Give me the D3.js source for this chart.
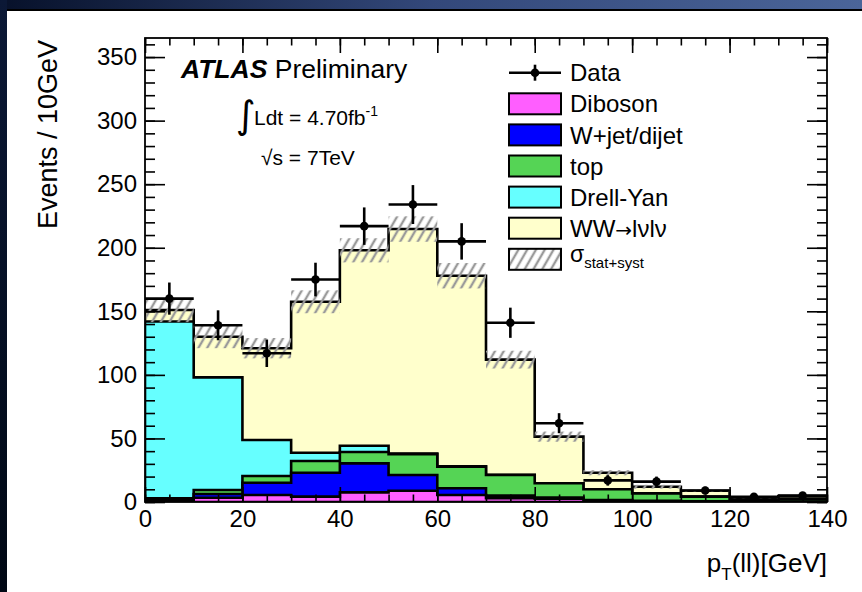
<!DOCTYPE html>
<html>
<head>
<meta charset="utf-8">
<script src="https://cdn.jsdelivr.net/npm/d3@7"></script>
<style>
body { margin: 0; background: #fff; }
svg { display: block; font-family: "Liberation Sans", Arial, Helvetica, sans-serif; }
.axis path { stroke: none; }
.axis line { stroke: #000; stroke-width: 1.6; }
.axis text { font-size: 24px; fill: #000; font-family: "Liberation Sans", Arial, sans-serif; }
</style>
</head>
<body>
<svg id="svg" width="862" height="592"></svg>
<script>
// bins of pT(ll), 10 GeV wide
const binLo = [0, 10, 20, 30, 40, 50, 60, 70, 80, 90, 100, 110, 120, 130];
const dataEvents = [160, 139, 117, 175, 217, 234, 205, 141, 62, 17, 16, 9, 4, 5];

// MC components (bottom of stack first)
const diboson = [1, 3.4, 5.5, 4.2, 7.6, 8.9, 5.5, 3, 2.5, 1, 0.6, 0.4, 0.2, 0.2];
const wjet    = [1, 2.9, 9.7, 18.8, 22.8, 12.3, 5.3, 2, 1, 0.5, 0.3, 0.2, 0.1, 0.1];
const topq    = [1, 3.1, 5.2, 9.2, 8.9, 16.5, 17, 16.2, 11.2, 8.5, 5.9, 3.6, 1.7, 2.2];
const drellYan = [139, 88.6, 28.4, 6.6, 5, 0.5, 0.3, 0.2, 0.1, 0, 0, 0, 0, 0];
const wwlvlv  = [9, 32, 72.2, 118.7, 153.7, 176.5, 149.9, 90.6, 36.6, 13, 5.2, 4.7, 1.5, 2.2];
const sigmaSyst = [9.5, 9, 8, 9, 9.5, 10, 10, 7, 4, 2, 1.5, 1, 0.5, 0.5];

const yTicks = [0, 50, 100, 150, 200, 250, 300, 350];
const xTicks = [0, 20, 40, 60, 80, 100, 120, 140];

const keys = ["Diboson", "W+jet/dijet", "top", "Drell-Yan", "WW"];
const colors = ["#ff5eff", "#0000ff", "#55d455", "#66ffff", "#ffffcc"];
const legendLabels = ["Data", "Diboson", "W+jet/dijet", "top", "Drell-Yan", "WW", "sigma"];

var svg = d3.select("#svg"),
    W = 862, H = 592,
    margin = { top: 38, right: 35, bottom: 90, left: 145 };

var x = d3.scaleLinear().domain([0, 140]).range([margin.left, W - margin.right]);
var y = d3.scaleLinear().domain([0, 365]).range([H - margin.bottom, margin.top]);

const defs = svg.append("defs");

// slide frame (blue band on top, dark strip on the left)
var g1 = defs.append("linearGradient").attr("id", "topband");
g1.append("stop").attr("offset", 0).attr("stop-color", "#07112a");
g1.append("stop").attr("offset", 0.5).attr("stop-color", "#33487a");
g1.append("stop").attr("offset", 1).attr("stop-color", "#4b6599");
var g2 = defs.append("linearGradient").attr("id", "leftband")
    .attr("x1", 0).attr("y1", 0).attr("x2", 0).attr("y2", 1);
g2.append("stop").attr("offset", 0).attr("stop-color", "#0b1836");
g2.append("stop").attr("offset", 1).attr("stop-color", "#000814");

svg.append("rect").attr("x", 0).attr("y", 0).attr("width", W).attr("height", 9).attr("fill", "url(#topband)");
svg.append("rect").attr("x", 0).attr("y", 9).attr("width", W).attr("height", 2).attr("fill", "#000");
svg.append("rect").attr("x", 0).attr("y", 0).attr("width", 7).attr("height", H).attr("fill", "url(#leftband)");

// hatch for the uncertainty band
var pat = defs.append("pattern").attr("id", "hatch")
    .attr("patternUnits", "userSpaceOnUse")
    .attr("width", 7.6).attr("height", 7.6)
    .attr("patternTransform", "rotate(30)");
pat.append("line").attr("x1", 3.8).attr("y1", -1).attr("x2", 3.8).attr("y2", 8.6)
    .attr("stroke", "#9a9a9a").attr("stroke-width", 2.4);

defs.append("clipPath").attr("id", "clip")
    .append("rect")
    .attr("x", x(0)).attr("y", y(365))
    .attr("width", x(140) - x(0)).attr("height", y(0) - y(365));

var rows = binLo.map((b, i) => ({
    lo: b,
    "Diboson": diboson[i],
    "W+jet/dijet": wjet[i],
    "top": topq[i],
    "Drell-Yan": drellYan[i],
    "WW": wwlvlv[i]
}));

var series = d3.stack().keys(keys)(rows);

var area = d3.area()
    .x(d => x(d[0]))
    .y0(y(0))
    .y1(d => y(d[1]))
    .curve(d3.curveStepAfter);

var plot = svg.append("g").attr("clip-path", "url(#clip)");

// THStack style: draw cumulative histograms from the top one down
series.slice().reverse().forEach(s => {
    var pts = s.map(d => [d.data.lo, d[1]]);
    pts.push([140, s[s.length - 1][1]]);
    plot.append("path")
        .datum(pts)
        .attr("d", area)
        .attr("fill", colors[s.index])
        .attr("stroke", "#000")
        .attr("stroke-width", 2.6)
        .attr("stroke-linejoin", "miter");
});

var total = series[series.length - 1].map(d => d[1]);

plot.selectAll(".band")
    .data(binLo)
    .enter().append("rect")
    .attr("class", "band")
    .attr("x", d => x(d))
    .attr("width", d => x(d + 10) - x(d))
    .attr("y", (d, i) => y(total[i] + sigmaSyst[i]))
    .attr("height", (d, i) => y(total[i] - sigmaSyst[i]) - y(total[i] + sigmaSyst[i]))
    .attr("fill", "url(#hatch)");

// data points
var pts = svg.append("g").attr("stroke", "#000").attr("stroke-width", 2.6);
binLo.forEach((b, i) => {
    var v = dataEvents[i], e = Math.sqrt(v);
    pts.append("line").attr("x1", x(b)).attr("x2", x(b + 10)).attr("y1", y(v)).attr("y2", y(v));
    pts.append("line").attr("x1", x(b + 5)).attr("x2", x(b + 5)).attr("y1", y(v - e)).attr("y2", y(v + e));
    pts.append("circle").attr("cx", x(b + 5)).attr("cy", y(v)).attr("r", 4.3).attr("fill", "#000").attr("stroke", "none");
});

// axes, ROOT style ticks pointing inwards on all four sides
function minorTicks(lo, hi, step) { return d3.range(lo, hi + 0.001, step); }

svg.append("g").attr("class", "axis")
    .attr("transform", "translate(" + x(0) + ",0)")
    .call(d3.axisLeft(y).tickValues(minorTicks(0, 360, 10)).tickSize(-10).tickFormat(""));
svg.append("g").attr("class", "axis")
    .attr("transform", "translate(" + x(0) + ",0)")
    .call(d3.axisLeft(y).tickValues(yTicks).tickSize(-20).tickPadding(8));
svg.append("g").attr("class", "axis")
    .attr("transform", "translate(" + x(140) + ",0)")
    .call(d3.axisRight(y).tickValues(minorTicks(0, 360, 10)).tickSize(-10).tickFormat(""));
svg.append("g").attr("class", "axis")
    .attr("transform", "translate(" + x(140) + ",0)")
    .call(d3.axisRight(y).tickValues(yTicks).tickSize(-20).tickFormat(""));

svg.append("g").attr("class", "axis")
    .attr("transform", "translate(0," + y(0) + ")")
    .call(d3.axisBottom(x).tickValues(minorTicks(0, 140, 5)).tickSize(-7.5).tickFormat(""));
svg.append("g").attr("class", "axis")
    .attr("transform", "translate(0," + y(0) + ")")
    .call(d3.axisBottom(x).tickValues(xTicks).tickSize(-15).tickPadding(8));
svg.append("g").attr("class", "axis")
    .attr("transform", "translate(0," + y(365) + ")")
    .call(d3.axisTop(x).tickValues(minorTicks(0, 140, 5)).tickSize(-7.5).tickFormat(""));
svg.append("g").attr("class", "axis")
    .attr("transform", "translate(0," + y(365) + ")")
    .call(d3.axisTop(x).tickValues(xTicks).tickSize(-15).tickFormat(""));

svg.append("rect")
    .attr("x", x(0)).attr("y", y(365))
    .attr("width", x(140) - x(0)).attr("height", y(0) - y(365))
    .attr("fill", "none").attr("stroke", "#000").attr("stroke-width", 1.8);

// axis titles
svg.append("text")
    .attr("transform", "translate(57,40) rotate(-90)")
    .attr("text-anchor", "end")
    .style("font-size", "27px")
    .text("Events / 10GeV");

var xt = svg.append("text")
    .attr("x", x(140)).attr("y", 572)
    .attr("text-anchor", "end")
    .style("font-size", "26px");
xt.append("tspan").text("p");
xt.append("tspan").attr("dy", 8).style("font-size", "17px").text("T");
xt.append("tspan").attr("dy", -8).text("(ll)[GeV]");

// ATLAS label
var at = svg.append("text").attr("x", 181).attr("y", 78).style("font-size", "26.5px");
at.append("tspan").style("font-weight", "bold").style("font-style", "italic").text("ATLAS");
at.append("tspan").text(" Preliminary");

svg.append("text").attr("x", 236).attr("y", 128).style("font-size", "38px")
    .style("font-family", "DejaVu Sans").text("\u222b");
var lum = svg.append("text").attr("x", 254).attr("y", 125).style("font-size", "21px");
lum.append("tspan").text("Ldt = 4.70fb");
lum.append("tspan").attr("dy", -9).style("font-size", "14px").text("-1");

svg.append("text").attr("x", 261).attr("y", 165).style("font-size", "21px").text("\u221as = 7TeV");

// legend
var leg = svg.append("g");
var ly0 = 72.7, ldy = 31.1, lx = 509;
legendLabels.forEach((lab, i) => {
    var cy = ly0 + i * ldy;
    if (i === 0) {
        leg.append("line").attr("x1", lx).attr("x2", lx + 52).attr("y1", cy).attr("y2", cy)
            .attr("stroke", "#000").attr("stroke-width", 2.6);
        leg.append("line").attr("x1", lx + 26).attr("x2", lx + 26).attr("y1", cy - 8).attr("y2", cy + 8)
            .attr("stroke", "#000").attr("stroke-width", 2.6);
        leg.append("circle").attr("cx", lx + 26).attr("cy", cy).attr("r", 4.3).attr("fill", "#000");
    } else {
        var fill = i < 6 ? colors[i - 1] : "url(#hatch)";
        if (i === 6) {
            leg.append("rect").attr("x", lx).attr("y", cy - 10.5).attr("width", 52).attr("height", 21)
                .attr("fill", "#fff");
        }
        leg.append("rect").attr("x", lx).attr("y", cy - 10.5).attr("width", 52).attr("height", 21)
            .attr("fill", fill).attr("stroke", "#000").attr("stroke-width", 2);
    }
    if (lab === "sigma") {
        var st = leg.append("text").attr("x", 570).attr("y", cy + 3).style("font-size", "23px");
        st.append("tspan").text("\u03c3");
        st.append("tspan").attr("dy", 6).style("font-size", "15px").text("stat+syst");
    } else if (lab === "WW") {
        var wt = leg.append("text").attr("x", 570).attr("y", cy).attr("dy", "0.36em").style("font-size", "24px");
        wt.append("tspan").text("WW");
        wt.append("tspan").style("font-family", "DejaVu Sans").style("font-size", "20px").text("\u2192");
        wt.append("tspan").text("l\u03bdl\u03bd");
    } else {
        leg.append("text").attr("x", 570).attr("y", cy).attr("dy", "0.36em")
            .style("font-size", "24px").text(lab);
    }
});
</script>
</body>
</html>
